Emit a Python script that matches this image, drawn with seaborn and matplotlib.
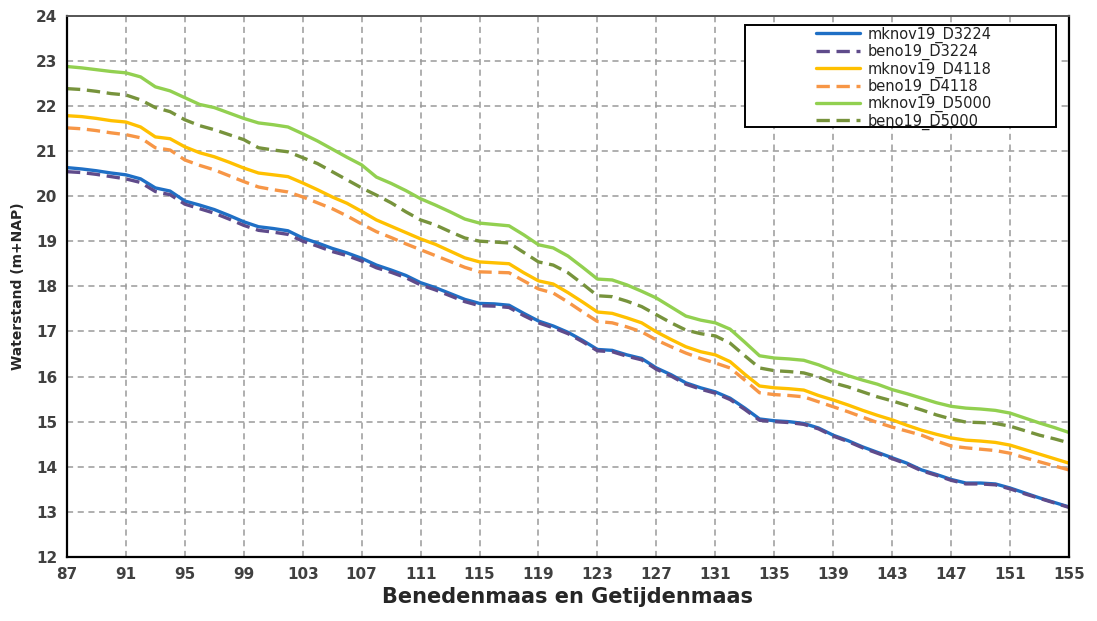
import numpy as np
import pandas as pd
import matplotlib
matplotlib.use("Agg")
import matplotlib.pyplot as plt
from matplotlib.patches import Rectangle
import seaborn as sns

km = list(range(87, 156))

mknov19_D3224 = [20.63, 20.60, 20.56, 20.51, 20.47, 20.38, 20.18, 20.11, 19.89, 19.80,
                 19.70, 19.57, 19.43, 19.32, 19.28, 19.23, 19.07, 18.96, 18.84, 18.74,
                 18.62, 18.47, 18.36, 18.24, 18.08, 17.97, 17.84, 17.71, 17.62, 17.61,
                 17.58, 17.40, 17.23, 17.12, 16.98, 16.80, 16.60, 16.58, 16.48, 16.40,
                 16.19, 16.04, 15.86, 15.75, 15.66, 15.52, 15.30, 15.06, 15.02, 15.00,
                 14.96, 14.86, 14.70, 14.58, 14.44, 14.32, 14.20, 14.08, 13.93, 13.83,
                 13.72, 13.64, 13.64, 13.62, 13.53, 13.42, 13.31, 13.21, 13.11]
beno19_D3224 = [20.54, 20.52, 20.48, 20.43, 20.38, 20.30, 20.10, 20.03, 19.82, 19.72,
                19.62, 19.49, 19.35, 19.24, 19.20, 19.15, 19.00, 18.89, 18.77, 18.68,
                18.56, 18.41, 18.31, 18.19, 18.03, 17.92, 17.79, 17.66, 17.57, 17.56,
                17.53, 17.35, 17.19, 17.08, 16.95, 16.77, 16.57, 16.55, 16.45, 16.37,
                16.16, 16.01, 15.83, 15.72, 15.63, 15.49, 15.27, 15.03, 15.00, 14.98,
                14.94, 14.84, 14.68, 14.56, 14.42, 14.30, 14.18, 14.06, 13.91, 13.81,
                13.70, 13.62, 13.62, 13.60, 13.51, 13.40, 13.30, 13.20, 13.10]
mknov19_D4118 = [21.78, 21.76, 21.72, 21.67, 21.64, 21.53, 21.31, 21.27, 21.09, 20.96,
                 20.87, 20.75, 20.62, 20.51, 20.47, 20.43, 20.29, 20.14, 19.98, 19.84,
                 19.66, 19.47, 19.33, 19.19, 19.05, 18.93, 18.78, 18.63, 18.54, 18.52,
                 18.50, 18.30, 18.12, 18.05, 17.86, 17.65, 17.43, 17.40, 17.30, 17.19,
                 16.99, 16.82, 16.66, 16.55, 16.48, 16.33, 16.05, 15.79, 15.75, 15.73,
                 15.70, 15.58, 15.48, 15.37, 15.25, 15.14, 15.04, 14.92, 14.81, 14.72,
                 14.64, 14.59, 14.57, 14.54, 14.48, 14.38, 14.28, 14.18, 14.08]
beno19_D4118 = [21.51, 21.49, 21.45, 21.40, 21.36, 21.29, 21.07, 21.02, 20.80, 20.68,
                20.58, 20.45, 20.32, 20.20, 20.14, 20.09, 19.98, 19.85, 19.72, 19.56,
                19.38, 19.21, 19.08, 18.94, 18.81, 18.68, 18.55, 18.42, 18.32, 18.31,
                18.30, 18.12, 17.94, 17.85, 17.65, 17.43, 17.22, 17.19, 17.10, 16.99,
                16.81, 16.66, 16.52, 16.40, 16.30, 16.19, 15.92, 15.64, 15.60, 15.58,
                15.55, 15.44, 15.33, 15.22, 15.10, 14.98, 14.88, 14.79, 14.70, 14.57,
                14.46, 14.42, 14.39, 14.36, 14.30, 14.20, 14.11, 14.02, 13.93]
mknov19_D5000 = [22.87, 22.84, 22.80, 22.76, 22.73, 22.64, 22.42, 22.33, 22.18, 22.03,
                 21.96, 21.84, 21.72, 21.62, 21.58, 21.53, 21.38, 21.22, 21.04, 20.86,
                 20.69, 20.42, 20.28, 20.12, 19.94, 19.80, 19.65, 19.49, 19.40, 19.37,
                 19.34, 19.14, 18.92, 18.85, 18.67, 18.42, 18.16, 18.14, 18.03, 17.89,
                 17.74, 17.54, 17.34, 17.25, 17.19, 17.05, 16.76, 16.46, 16.41, 16.39,
                 16.36, 16.26, 16.13, 16.02, 15.92, 15.83, 15.71, 15.62, 15.52, 15.42,
                 15.34, 15.30, 15.28, 15.25, 15.19, 15.08, 14.97, 14.87, 14.76]
beno19_D5000 = [22.38, 22.36, 22.32, 22.27, 22.24, 22.13, 21.96, 21.87, 21.69, 21.56,
                21.47, 21.36, 21.25, 21.07, 21.02, 20.98, 20.85, 20.72, 20.54, 20.36,
                20.18, 20.02, 19.85, 19.65, 19.47, 19.36, 19.21, 19.07, 19.00, 18.98,
                18.96, 18.75, 18.54, 18.47, 18.30, 18.05, 17.79, 17.77, 17.67, 17.55,
                17.37, 17.19, 17.03, 16.95, 16.90, 16.74, 16.46, 16.19, 16.13, 16.11,
                16.08, 15.99, 15.86, 15.77, 15.66, 15.55, 15.46, 15.36, 15.26, 15.15,
                15.06, 14.99, 14.98, 14.96, 14.90, 14.80, 14.70, 14.62, 14.53]

series = {
    "mknov19_D3224": mknov19_D3224,
    "beno19_D3224": beno19_D3224,
    "mknov19_D4118": mknov19_D4118,
    "beno19_D4118": beno19_D4118,
    "mknov19_D5000": mknov19_D5000,
    "beno19_D5000": beno19_D5000,
}
colors = ["#1F6FC5", "#5F4B8B", "#FFC000", "#F79646", "#92D050", "#77933C"]
dashed = [False, True, False, True, False, True]

df = pd.DataFrame(series)
df["km"] = km
long = df.melt(id_vars="km", var_name="serie", value_name="waterstand")

sns.set_style("white")
fig = plt.figure(figsize=(10.97, 6.21), dpi=100)
ax = fig.add_axes([0.061, 0.103, 0.9135, 0.872])

sns.lineplot(data=long, x="km", y="waterstand", hue="serie", style="serie",
             palette=colors, dashes=[(None, None) if not d else (4, 2) for d in dashed],
             linewidth=2.4, ax=ax)

ax.set_xlim(87, 155)
ax.set_ylim(12, 24)
ax.set_xticks(range(87, 156, 4))
ax.set_yticks(range(12, 25))
ax.grid(True, color="#9a9a9a", linestyle=(0, (4, 3)), linewidth=1.1)
for s in ["left", "bottom", "right"]:
    ax.spines[s].set_color("black")
    ax.spines[s].set_linewidth(1.6)
ax.spines["top"].set_color("#555555")
ax.spines["top"].set_linewidth(1.4)
ax.tick_params(direction="inout", length=7, width=1.2, colors="#333333",
               labelsize=11, labelcolor="#404040")
for lab in ax.get_xticklabels() + ax.get_yticklabels():
    lab.set_fontweight("bold")

ax.set_xlabel("Benedenmaas en Getijdenmaas", fontsize=15, fontweight="bold", labelpad=4)
ax.set_ylabel("Waterstand (m+NAP)", fontsize=10, fontweight="bold", labelpad=8)

# Excel-achtig legendakader: breder dan de inhoud
box = Rectangle((0.677, 0.795), 0.310, 0.188, transform=ax.transAxes,
                facecolor="white", edgecolor="black", linewidth=1.4, zorder=4)
ax.add_patch(box)
leg = ax.legend(loc="upper left", bbox_to_anchor=(0.745, 0.985), fontsize=10.5,
                frameon=False, handlelength=3.0, handletextpad=0.5,
                labelspacing=0.08, borderpad=0.2, borderaxespad=0)
leg.set_zorder(5)
for t in leg.get_texts():
    t.set_color("#222222")

fig.savefig("out.png", dpi=100)
